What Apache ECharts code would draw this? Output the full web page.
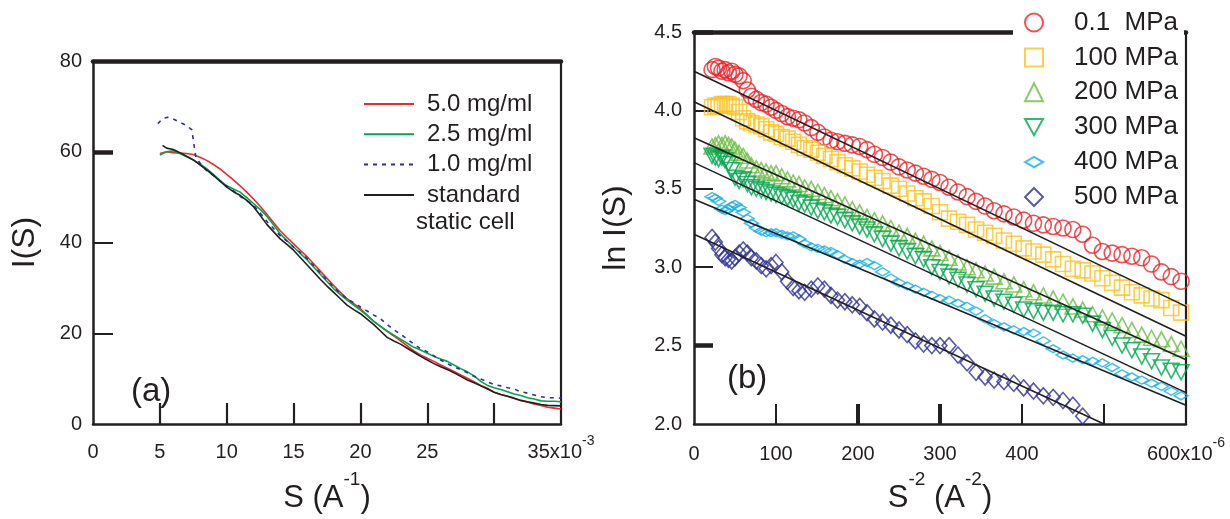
<!DOCTYPE html>
<html><head><meta charset="utf-8">
<script src="https://cdn.jsdelivr.net/npm/echarts@6/dist/echarts.min.js"></script>
<style>html,body{margin:0;padding:0;background:#fff}#c{width:1230px;height:519px}</style>
</head><body><div id="c"></div>
<script>
// ---------- Panel (a): I(S) vs S (x10^-3 A^-1) ----------
const sGrid = [5,5.5,6,6.5,7,7.5,8,8.5,9,9.5,10,10.5,11,11.5,12,12.5,13,13.5,14,14.5,15,15.5,16,16.5,17,17.5,18,18.5,19,19.5,20,20.5,21,21.5,22,22.5,23,23.5,24,24.5,25,25.5,26,26.5,27,27.5,28,28.5,29,29.5,30,30.5,31,31.5,32,32.5,33,33.5,34,34.5,35];
const sBlack = [5.2,5.5,6,6.5,7,7.5,8,8.5,9,9.5,10,10.5,11,11.5,12,12.5,13,13.5,14,14.5,15,15.5,16,16.5,17,17.5,18,18.5,19,19.5,20,20.5,21,21.5,22,22.5,23,23.5,24,24.5,25,25.5,26,26.5,27,27.5,28,28.5,29,29.5,30,30.5,31,31.5,32,32.5,33,33.5,34,34.5,35];
const sBlue = [4.85,5.2,5.6,6,6.5,7,7.4,7.6,7.7,8,8.5,9,9.5,10,10.5,11,11.5,12,12.5,13,13.5,14,14.5,15,15.5,16,16.5,17,17.5,18,18.5,19,19.5,20,20.5,21,21.5,22,22.5,23,23.5,24,24.5,25,25.5,26,26.5,27,27.5,28,28.5,29,29.5,30,30.5,31,31.5,32,32.5,33,33.5,34,34.5,35];
const iRed = [59.6,60.0,59.8,59.7,59.6,59.4,58.8,58.1,57.2,56.2,55.0,53.8,52.5,51.1,49.6,48.0,46.2,44.4,42.6,41.1,39.7,38.3,36.9,35.3,33.7,32.1,30.5,29.0,27.6,26.5,25.4,24.0,22.6,21.5,20.4,19.4,18.3,17.2,16.1,15.2,14.5,13.8,13.0,12.3,11.6,10.8,10.1,9.3,8.5,7.9,7.0,6.5,6.1,5.6,5.2,4.8,4.4,4.1,3.7,3.5,3.3];
const iGreen = [59.3,60.0,60.2,59.6,58.9,58.2,57.3,56.3,55.0,53.7,52.5,51.8,51.1,49.9,48.6,47.3,45.8,43.9,41.9,40.4,39.0,37.6,36.2,34.6,33.0,31.4,29.8,28.5,27.3,26.2,25.1,23.9,22.6,21.5,20.5,19.6,18.7,17.8,16.9,16.3,15.6,14.9,14.3,13.8,13.0,12.2,11.5,10.6,9.4,8.5,8.0,7.6,7.1,6.6,6.3,5.8,5.5,5.1,5.0,5.0,4.9];
const iBlue = [66.2,67.3,67.6,67.2,66.5,65.8,64.8,60.5,58.8,57.5,55.8,54.8,53.6,52.4,51.4,50.2,49.2,48.3,46.5,44.7,43.1,41.5,40.3,39.0,37.8,36.5,34.9,33.3,31.7,30.1,28.8,27.6,26.7,25.8,24.9,24.0,23.2,21.9,20.8,19.8,18.7,17.6,16.6,15.9,15.0,14.1,13.3,12.6,12.0,11.3,10.5,9.9,9.3,8.7,8.4,8.0,7.7,7.1,6.8,6.4,6.0,5.8,5.8,5.7];
const iBlack = [61.4,60.8,60.5,59.8,59.0,58.2,57.1,56.0,54.8,53.5,52.2,51.2,50.4,49.3,47.9,46.0,44.0,42.4,40.8,39.6,38.3,36.7,35.1,33.5,31.9,30.4,29.0,27.6,26.2,25.2,24.3,23.1,21.9,20.5,19.1,18.3,17.6,16.7,15.8,14.9,14.1,13.3,12.6,12.0,11.3,10.5,9.7,9.1,8.4,7.7,7.0,6.5,6.1,5.7,5.2,4.9,4.6,4.3,4.1,4.05,4.0];
const aNames = ['5.0 mg/ml','2.5 mg/ml','1.0 mg/ml','standard'];

// ---------- Panel (b): ln I(S) vs S^2 (x10^-6 A^-2) ----------
const bX = [22,26,30,34,38,42,46,50,55,60,65,70,76,82,88,94,100,107,114,121,128,135,143,151,159,167,175,184,193,202,211,220,230,240,250,260,270,280,290,300,311,322,333,344,355,366,378,390,402,414,426,438,450,462,474,486,498,510,522,534,546,558,570,582,594];
const p01 = [4.26,4.28,4.27,4.25,4.26,4.24,4.25,4.23,4.22,4.19,4.13,4.09,4.07,4.05,4.04,4.02,4.00,3.98,3.96,3.95,3.94,3.92,3.89,3.86,3.83,3.81,3.80,3.79,3.78,3.77,3.75,3.72,3.70,3.67,3.64,3.62,3.60,3.58,3.56,3.54,3.51,3.48,3.45,3.42,3.39,3.36,3.34,3.32,3.30,3.28,3.27,3.26,3.25,3.24,3.21,3.14,3.10,3.09,3.08,3.07,3.06,3.02,2.97,2.94,2.91];
const p100 = [4.02,4.03,4.03,4.04,4.04,4.04,4.03,4.02,3.99,3.95,3.93,3.92,3.91,3.90,3.88,3.86,3.85,3.83,3.82,3.80,3.78,3.76,3.75,3.73,3.71,3.69,3.67,3.65,3.63,3.61,3.59,3.57,3.55,3.52,3.50,3.47,3.44,3.42,3.39,3.35,3.31,3.29,3.27,3.24,3.22,3.20,3.17,3.15,3.12,3.10,3.08,3.05,3.02,2.99,2.98,2.96,2.93,2.90,2.87,2.84,2.82,2.80,2.79,2.74,2.71];
const p200 = [3.77,3.78,3.79,3.78,3.79,3.78,3.77,3.75,3.73,3.71,3.68,3.65,3.63,3.62,3.61,3.60,3.60,3.58,3.56,3.54,3.53,3.51,3.50,3.48,3.46,3.44,3.42,3.40,3.37,3.35,3.32,3.30,3.28,3.25,3.22,3.20,3.17,3.15,3.12,3.09,3.06,3.03,3.00,2.98,2.96,2.94,2.91,2.89,2.86,2.84,2.82,2.80,2.78,2.75,2.73,2.70,2.68,2.66,2.63,2.60,2.57,2.55,2.54,2.51,2.48];
const p300 = [3.71,3.70,3.69,3.70,3.68,3.66,3.62,3.57,3.55,3.56,3.53,3.51,3.50,3.49,3.48,3.47,3.46,3.45,3.44,3.43,3.41,3.40,3.38,3.36,3.35,3.33,3.32,3.30,3.28,3.26,3.24,3.21,3.18,3.15,3.12,3.10,3.07,3.05,3.00,2.97,2.94,2.92,2.89,2.86,2.83,2.80,2.78,2.76,2.73,2.72,2.71,2.71,2.70,2.70,2.69,2.64,2.60,2.55,2.50,2.47,2.43,2.40,2.36,2.34,2.33];
const p400 = [3.45,3.44,3.42,3.37,3.36,3.37,3.39,3.40,3.38,3.35,3.31,3.28,3.25,3.23,3.22,3.22,3.22,3.21,3.20,3.20,3.18,3.15,3.13,3.12,3.11,3.10,3.08,3.05,3.03,3.02,3.03,3.01,2.97,2.93,2.90,2.88,2.86,2.84,2.82,2.80,2.79,2.77,2.75,2.72,2.67,2.64,2.62,2.60,2.59,2.58,2.53,2.48,2.44,2.42,2.41,2.40,2.39,2.36,2.32,2.30,2.28,2.26,2.24,2.21,2.18];
const p500 = [3.19,3.16,3.12,3.08,3.06,3.05,3.04,3.06,3.09,3.11,3.09,3.06,3.04,3.01,2.99,3.01,3.03,2.97,2.91,2.87,2.85,2.84,2.86,2.88,2.86,2.82,2.79,2.78,2.76,2.75,2.71,2.67,2.65,2.63,2.60,2.57,2.53,2.51,2.50,2.50,2.50,2.44,2.39,2.33,2.30,2.28,2.27,2.26,2.23,2.21,2.18,2.17,2.15,2.12,2.05];
const bNames = ['0.1  MPa','100 MPa','200 MPa','300 MPa','400 MPa','500 MPa'];
// straight-line fits
const fitStartX = [0,0,0,0,0,0];
const fitStartY = [4.25,4.055,3.826,3.667,3.433,3.21];
const fitEndX = [600,600,600,600,600,500];
const fitEndY = [2.75,2.56,2.41,2.20,2.12,2.0];

const FONT = '"Liberation Sans", Arial, Helvetica, sans-serif';
const INK = '#231f20';
const pair = (xs, ys) => ys.map((y, i) => [xs[i], y]);

const labRich = {
  b: {fontSize: 20, fontFamily: FONT, color: INK, lineHeight: 28, verticalAlign: 'bottom'},
  sup: {fontSize: 14, fontFamily: FONT, color: INK, lineHeight: 12, verticalAlign: 'top'}
};
const nameRich = {
  m: {fontSize: 31, fontFamily: FONT, color: INK, lineHeight: 44, verticalAlign: 'bottom'},
  sup: {fontSize: 19, fontFamily: FONT, color: INK, lineHeight: 14, verticalAlign: 'top'}
};

const hidden = {show: false};
function frameAxis(grid, pos, w, min, max) {
  return {type: 'value', gridIndex: grid, position: pos, min, max,
    axisLine: {show: true, onZero: false, lineStyle: {color: INK, width: w}},
    axisTick: hidden, axisLabel: hidden, splitLine: hidden};
}
function tickAxis(grid, pos, min, max, vals, w, len) {
  return {type: 'value', gridIndex: grid, position: pos, min, max,
    axisLine: {show: false, onZero: false},
    axisTick: {show: true, inside: true, length: len, customValues: vals, lineStyle: {color: INK, width: w}},
    axisLabel: hidden, splitLine: hidden};
}

const chart = echarts.init(document.getElementById('c'), null, {renderer: 'canvas'});
const scatterStyle = (c) => ({color: 'rgba(0,0,0,0)', borderColor: c, borderWidth: 1.6});
const bColors = ['#ec2227','#fcc21b','#6cbd45','#00a650','#11b0ec','#2e3192'];
const bSymbols = ['circle','rect','triangle','path://M0,0L10,0L5,9Z','diamond','diamond'];
const bSizes = [[16,16],[15,15],[16,15],[16,15],[14,8],[14,16]];
const bIcons = ['circle','rect','triangle','path://M0,0L10,0L5,9Z','path://M0,4L7,0L14,4L7,8Z','diamond'];
const bData = [p01,p100,p200,p300,p400,p500];

const series = [
  {name: aNames[0], type: 'line', xAxisIndex: 0, yAxisIndex: 0, symbol: 'none', data: pair(sGrid, iRed), lineStyle: {color: '#ee2a2e', width: 1.6}, itemStyle: {color: '#ee2a2e'}},
  {name: aNames[1], type: 'line', xAxisIndex: 0, yAxisIndex: 0, symbol: 'none', data: pair(sGrid, iGreen), lineStyle: {color: '#00a651', width: 1.6}, itemStyle: {color: '#00a651'}},
  {name: aNames[2], type: 'line', xAxisIndex: 0, yAxisIndex: 0, symbol: 'none', data: pair(sBlue, iBlue), lineStyle: {color: '#2e3192', width: 1.6, type: [4, 5]}, itemStyle: {color: '#2e3192'}},
  {name: aNames[3], type: 'line', xAxisIndex: 0, yAxisIndex: 0, symbol: 'none', data: pair(sBlack, iBlack), lineStyle: {color: INK, width: 1.6}, itemStyle: {color: INK}},
];
bData.forEach((d, k) => {
  series.push({name: bNames[k], type: 'scatter', xAxisIndex: 3, yAxisIndex: 4,
    symbol: bSymbols[k], symbolSize: bSizes[k], data: pair(bX, d),
    itemStyle: scatterStyle(bColors[k]), emphasis: {disabled: true}});
});
fitStartY.forEach((y0, k) => {
  series.push({type: 'line', xAxisIndex: 3, yAxisIndex: 4, symbol: 'none', silent: true,
    data: [[fitStartX[k], y0], [fitEndX[k], fitEndY[k]]], lineStyle: {color: INK, width: 1.6}, z: 3});
});

const option = {
  animation: false,
  backgroundColor: '#fff',
  textStyle: {fontFamily: FONT, color: INK},
  grid: [
    {left: 93, top: 61, width: 468, height: 375},
    {left: 694, top: 32, width: 492, height: 392}
  ],
  xAxis: [
    {type: 'value', gridIndex: 0, position: 'bottom', min: 0, max: 35, interval: 5,
      axisLine: {show: true, onZero: false, lineStyle: {color: INK, width: 2.5}},
      axisTick: {show: true, inside: true, length: 21, customValues: [5,10,15,20,25,30], lineStyle: {color: INK, width: 2.2}},
      axisLabel: {margin: 10, rich: labRich, formatter: v => v === 30 ? '' : (v === 35 ? '{b|35x10}{sup|-3}' : '{b|' + v + '}')},
      splitLine: hidden,
      name: '{m|S (A}{sup|-1}{m|)}', nameLocation: 'middle', nameGap: 46, nameTextStyle: {rich: nameRich}},
    frameAxis(0, 'top', 4.5, 0, 35),
    tickAxis(0, 'bottom', 0, 35, [], 2, 20),
    {type: 'value', gridIndex: 1, position: 'bottom', min: 0, max: 600, interval: 100,
      axisLine: {show: true, onZero: false, lineStyle: {color: INK, width: 2.5}},
      axisTick: {show: true, inside: true, length: 20, customValues: [100,400,500], lineStyle: {color: INK, width: 2}},
      axisLabel: {margin: 12, rich: labRich, formatter: v => v === 500 ? '' : (v === 600 ? '{b|600x10}{sup|-6}' : '{b|' + v + '}')},
      splitLine: hidden,
      name: '{m|S}{sup|-2}{m| (A}{sup|-2}{m|)}', nameLocation: 'middle', nameGap: 46, nameTextStyle: {rich: nameRich}},
    frameAxis(1, 'top', 4.5, 0, 600),
    tickAxis(1, 'bottom', 0, 600, [200,300], 4, 20)
  ],
  yAxis: [
    {type: 'value', gridIndex: 0, position: 'left', min: 0, max: 80, interval: 20,
      axisLine: {show: true, onZero: false, lineStyle: {color: INK, width: 2.5}},
      axisTick: {show: true, inside: true, length: 20, customValues: [20,40], lineStyle: {color: INK, width: 2}},
      axisLabel: {margin: 11, fontSize: 20, color: INK, fontFamily: FONT},
      splitLine: hidden,
      name: 'I(S)', nameLocation: 'middle', nameRotate: 90, nameGap: 52, nameTextStyle: {fontSize: 32, fontFamily: FONT, color: INK}},
    frameAxis(0, 'right', 2.2, 0, 80),
    tickAxis(0, 'left', 0, 80, [60], 4.5, 20),
    frameAxis(1, 'right', 2.2, 2, 4.5),
    {type: 'value', gridIndex: 1, position: 'left', min: 2, max: 4.5, interval: 0.5,
      axisLine: {show: true, onZero: false, lineStyle: {color: INK, width: 2.5}},
      axisTick: {show: true, inside: true, length: 19, customValues: [3,3.5,4], lineStyle: {color: INK, width: 2}},
      axisLabel: {margin: 12, fontSize: 20, color: INK, fontFamily: FONT, formatter: v => v.toFixed(1)},
      splitLine: hidden,
      name: 'ln I(S)', nameLocation: 'middle', nameRotate: 90, nameGap: 62, nameTextStyle: {fontSize: 32, fontFamily: FONT, color: INK}},
    tickAxis(1, 'left', 2, 4.5, [2.5,4.5], 4.5, 19)
  ],
  legend: [
    {data: aNames, orient: 'vertical', left: 358, top: 87, itemWidth: 50, itemHeight: 14, itemGap: 6.3,
      selectedMode: false, itemStyle: {opacity: 0},
      textStyle: {fontSize: 24, fontFamily: FONT, color: INK, lineHeight: 24, padding: [0,0,0,8]}},
    {data: bNames.map((n, k) => ({name: n, icon: bIcons[k]})), orient: 'vertical', left: 1024, top: 9.5, itemWidth: 18, itemHeight: 18, itemGap: 8.9,
      selectedMode: false, padding: 0,
      textStyle: {fontSize: 26, fontFamily: FONT, color: INK, lineHeight: 26, padding: [0,0,0,26]}}
  ],
  graphic: [
    {type: 'rect', left: 1013, top: 28, shape: {width: 171, height: 10}, style: {fill: '#fff'}, z: 1},
    {type: 'text', left: 416, top: 210, style: {text: 'static cell', fontSize: 24, fontFamily: FONT, fill: INK}, z: 10},
    {type: 'text', left: 131, top: 375, style: {text: '(a)', fontSize: 33, fontFamily: FONT, fill: INK}, z: 10},
    {type: 'text', left: 727, top: 362, style: {text: '(b)', fontSize: 33, fontFamily: FONT, fill: INK}, z: 10}
  ],
  series
};
chart.setOption(option);
</script></body></html>
